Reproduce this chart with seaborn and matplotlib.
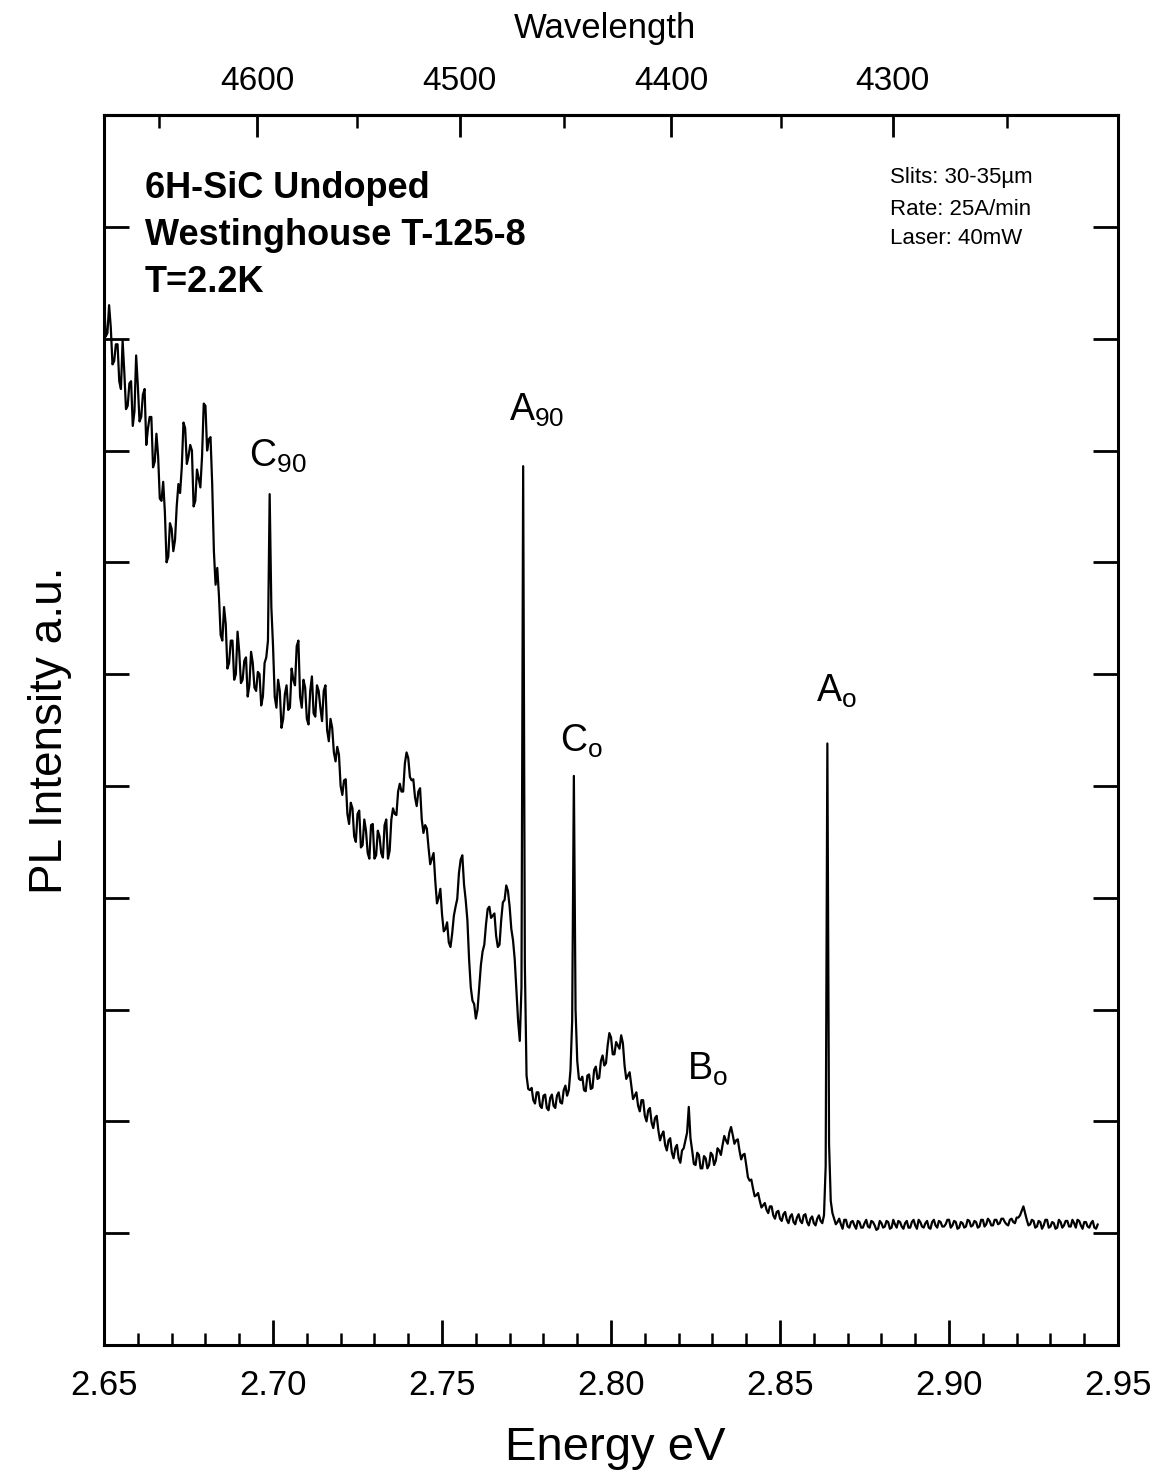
import numpy as np
import pandas as pd
import matplotlib
matplotlib.use("Agg")
import matplotlib.pyplot as plt
import seaborn as sns
from matplotlib.ticker import FixedLocator, MultipleLocator, FormatStrFormatter

# Photoluminescence spectrum: readings on the whole-meV grid from 2.650 eV
pl_intensity = [
    9.35, 9.05, 9.10, 8.80, 8.95, 8.55, 8.70, 8.40, 8.62, 8.35,
    8.58, 8.30, 8.55, 8.20, 8.30, 7.90, 7.95, 7.55, 7.45, 7.05,
    7.30, 7.20, 7.70, 7.85, 8.20, 7.95, 8.00, 7.55, 7.75, 7.95,
    8.40, 8.10, 7.70, 6.80, 6.70, 6.30, 6.45, 6.10, 6.30, 6.00,
    6.20, 5.95, 6.15, 5.90, 6.10, 5.85, 6.00, 5.80, 6.15, 7.61,
    6.25, 5.70, 5.85, 5.60, 5.90, 5.70, 5.95, 6.25, 5.80, 5.95,
    5.60, 5.85, 5.65, 5.90, 5.70, 5.85, 5.50, 5.60, 5.30, 5.35,
    5.00, 5.05, 4.75, 4.85, 4.55, 4.75, 4.45, 4.70, 4.40, 4.65,
    4.35, 4.60, 4.40, 4.65, 4.35, 4.70, 4.75, 4.95, 4.95, 5.20,
    5.25, 5.05, 4.90, 4.95, 4.70, 4.65, 4.45, 4.35, 4.15, 4.00,
    3.85, 3.72, 3.60, 3.68, 3.92, 4.22, 4.38, 3.98, 3.45, 3.08,
    2.92, 3.20, 3.52, 3.76, 3.92, 3.84, 3.66, 3.58, 3.96, 4.11,
    3.92, 3.62, 3.18, 2.72, 7.86, 2.41, 2.28, 2.19, 2.26, 2.14,
    2.23, 2.12, 2.21, 2.14, 2.23, 2.17, 2.28, 2.23, 2.46, 5.09,
    2.54, 2.37, 2.28, 2.41, 2.29, 2.46, 2.38, 2.54, 2.50, 2.68,
    2.75, 2.60, 2.68, 2.77, 2.50, 2.41, 2.32, 2.23, 2.14, 2.19,
    2.05, 2.10, 1.99, 2.03, 1.92, 1.88, 1.79, 1.83, 1.72, 1.76,
    1.67, 1.74, 1.83, 2.13, 1.74, 1.61, 1.70, 1.58, 1.67, 1.61,
    1.70, 1.65, 1.74, 1.79, 1.83, 1.90, 1.88, 1.83, 1.74, 1.70,
    1.61, 1.47, 1.40, 1.34, 1.29, 1.25, 1.21, 1.24, 1.16, 1.19,
    1.13, 1.17, 1.12, 1.15, 1.10, 1.14, 1.11, 1.16, 1.10, 1.13,
    1.09, 1.13, 1.11, 1.16, 5.38, 1.29, 1.13, 1.10, 1.08, 1.12,
    1.06, 1.10, 1.07, 1.11, 1.05, 1.09, 1.06, 1.11, 1.07, 1.04,
    1.09, 1.06, 1.10, 1.05, 1.08, 1.11, 1.06, 1.09, 1.05, 1.10,
    1.07, 1.12, 1.06, 1.09, 1.05, 1.10, 1.07, 1.11, 1.06, 1.08,
    1.12, 1.07, 1.10, 1.05, 1.09, 1.06, 1.11, 1.07, 1.10, 1.06,
    1.12, 1.08, 1.11, 1.07, 1.12, 1.09, 1.13, 1.08, 1.12, 1.10,
    1.14, 1.16, 1.24, 1.12, 1.08, 1.11, 1.06, 1.10, 1.07, 1.12,
    1.06, 1.09, 1.05, 1.10, 1.07, 1.11, 1.06, 1.09, 1.12, 1.07,
    1.10, 1.06, 1.09, 1.05, 1.08,
]

# Readings taken half-way between the whole-meV points (2.6505 eV onward)
pl_intensity_half = [
    9.02, 9.30, 8.77, 8.95, 8.62, 8.98, 8.37, 8.60, 8.22, 8.85,
    8.26, 8.50, 8.05, 8.30, 7.85, 8.15, 7.57, 7.72, 7.00, 7.35,
    7.10, 7.50, 7.62, 8.25, 7.88, 8.05, 7.50, 7.83, 7.67, 8.42,
    8.00, 8.12, 7.10, 6.95, 6.35, 6.60, 6.05, 6.30, 5.95, 6.38,
    5.92, 6.12, 5.80, 6.20, 5.88, 6.02, 5.72, 6.10, 6.30, 6.60,
    5.80, 5.95, 5.52, 5.82, 5.68, 6.05, 5.90, 6.30, 5.70, 5.88,
    5.55, 5.98, 5.62, 5.85, 5.58, 5.90, 5.40, 5.52, 5.22, 5.28,
    4.92, 5.06, 4.66, 4.80, 4.50, 4.78, 4.47, 4.60, 4.35, 4.66,
    4.38, 4.55, 4.36, 4.70, 4.42, 4.80, 4.74, 5.02, 4.95, 5.30,
    5.08, 5.06, 4.82, 4.98, 4.58, 4.62, 4.30, 4.40, 3.95, 4.08,
    3.70, 3.78, 3.56, 3.84, 3.99, 4.34, 4.12, 3.80, 3.20, 3.05,
    3.00, 3.40, 3.58, 3.90, 3.82, 3.86, 3.56, 3.80, 3.98, 4.06,
    3.72, 3.45, 2.90, 3.20, 3.40, 2.29, 2.30, 2.16, 2.26, 2.12,
    2.24, 2.10, 2.24, 2.12, 2.26, 2.16, 2.32, 2.28, 2.90, 3.00,
    2.38, 2.40, 2.27, 2.42, 2.30, 2.49, 2.39, 2.59, 2.52, 2.79,
    2.60, 2.71, 2.65, 2.70, 2.38, 2.44, 2.20, 2.26, 2.09, 2.19,
    2.00, 2.12, 1.94, 2.05, 1.83, 1.91, 1.74, 1.85, 1.67, 1.79,
    1.63, 1.76, 1.90, 1.85, 1.62, 1.72, 1.58, 1.69, 1.58, 1.72,
    1.61, 1.76, 1.70, 1.87, 1.80, 1.95, 1.80, 1.84, 1.66, 1.71,
    1.50, 1.48, 1.33, 1.36, 1.23, 1.27, 1.18, 1.24, 1.13, 1.20,
    1.11, 1.19, 1.09, 1.17, 1.08, 1.17, 1.09, 1.17, 1.07, 1.15,
    1.07, 1.16, 1.09, 1.60, 1.80, 1.18,
    1.08, 1.13, 1.04, 1.12, 1.05, 1.11, 1.04, 1.10, 1.05, 1.12,
    1.05, 1.10, 1.03, 1.11, 1.05, 1.11, 1.04, 1.12, 1.05, 1.10,
    1.04, 1.11, 1.05, 1.12, 1.04, 1.10, 1.05, 1.11, 1.04, 1.12,
    1.05, 1.10, 1.06, 1.12, 1.05, 1.11, 1.04, 1.10, 1.05, 1.12,
    1.06, 1.11, 1.05, 1.12, 1.06, 1.13, 1.07, 1.12, 1.08, 1.13,
    1.10, 1.07, 1.13, 1.09, 1.14, 1.20, 1.18, 1.07, 1.12, 1.05,
    1.11, 1.04, 1.12, 1.05, 1.10, 1.04, 1.12, 1.05, 1.11, 1.06,
    1.12, 1.05, 1.11, 1.04, 1.10, 1.05, 1.11, 1.04,
]

energy_ev = np.round(2.650 + 0.001 * np.arange(len(pl_intensity)), 4)
energy_ev_half = np.round(2.6505 + 0.001 * np.arange(len(pl_intensity_half)), 4)

# Axis ticks
energy_ticks = [2.65, 2.70, 2.75, 2.80, 2.85, 2.90, 2.95]
intensity_ticks = [1, 2, 3, 4, 5, 6, 7, 8, 9, 10]
wavelength_ticks = [4600, 4500, 4400, 4300]
wavelength_minor = [4650, 4550, 4450, 4350, 4250]

# Line identifications: label text and where it sits (energy, intensity)
peak_names = [r"$\mathregular{C_{90}}$", r"$\mathregular{A_{90}}$",
              r"$\mathregular{C_{o}}$", r"$\mathregular{A_{o}}$",
              r"$\mathregular{B_{o}}$"]
peak_label_e = [2.7015, 2.7780, 2.7914, 2.8666, 2.8284]
peak_label_i = [7.95, 8.36, 5.40, 5.85, 2.47]

sample_lines = ["6H-SiC Undoped", "Westinghouse T-125-8", "T=2.2K"]
setup_lines = ["Slits: 30-35\u00b5m", "Rate: 25A/min", "Laser: 40mW"]

HC = 12398.4  # eV * Angstrom


def ev_to_angstrom(e):
    e = np.asarray(e, dtype=float)
    with np.errstate(divide="ignore"):
        return HC / e


sns.set_style("ticks")
plt.rcParams["font.family"] = ["Liberation Sans", "DejaVu Sans"]
plt.rcParams["mathtext.fontset"] = "custom"
plt.rcParams["mathtext.rm"] = "Liberation Sans"
plt.rcParams["mathtext.it"] = "Liberation Sans:italic"
plt.rcParams["mathtext.bf"] = "Liberation Sans:bold"
for key in ["axes.edgecolor", "xtick.color", "ytick.color", "text.color",
            "axes.labelcolor"]:
    plt.rcParams[key] = "black"

df = pd.concat([
    pd.DataFrame({"energy": energy_ev, "intensity": pl_intensity}),
    pd.DataFrame({"energy": energy_ev_half, "intensity": pl_intensity_half}),
], ignore_index=True).sort_values("energy")

fig = plt.figure(figsize=(11.65, 14.81), dpi=100)
ax = fig.add_axes([0.0893, 0.0918, 0.8704, 0.8305])

sns.lineplot(data=df, x="energy", y="intensity", ax=ax, color="black",
             linewidth=1.6, estimator=None, sort=True)

ax.set_xlim(2.65, 2.95)
ax.set_ylim(0, 11)
ax.set_xlabel("")
ax.set_ylabel("")

for s in ax.spines.values():
    s.set_linewidth(2.2)
    s.set_color("black")

ax.xaxis.set_major_locator(FixedLocator(energy_ticks))
ax.xaxis.set_major_formatter(FormatStrFormatter("%.2f"))
ax.xaxis.set_minor_locator(MultipleLocator(0.01))
ax.tick_params(axis="x", which="major", direction="in", length=18, width=2,
               labelsize=25, pad=17, top=False, bottom=True)
ax.tick_params(axis="x", which="minor", direction="in", length=9, width=1.8,
               top=False, bottom=True)
ax.set_yticks(intensity_ticks)
ax.tick_params(axis="y", which="major", direction="in", length=18, width=2,
               left=True, right=True, labelleft=False, labelright=False)

sec = ax.secondary_xaxis("top", functions=(ev_to_angstrom, ev_to_angstrom))
sec.xaxis.set_major_locator(FixedLocator(wavelength_ticks))
sec.xaxis.set_minor_locator(FixedLocator(wavelength_minor))
sec.tick_params(which="major", direction="in", length=16, width=2,
                labelsize=24, pad=13)
sec.tick_params(which="minor", direction="in", length=9, width=1.8)
sec.spines["top"].set_linewidth(2.2)

for name, e, i in zip(peak_names, peak_label_e, peak_label_i):
    ax.text(e, i, name, fontsize=27, ha="center", va="center")

for k, line in enumerate(sample_lines):
    ax.text(0.0404, 0.9407 - 0.0383 * k, line, transform=ax.transAxes,
            fontsize=26, fontweight="bold", ha="left", va="center")

setup_y = [0.9496, 0.9236, 0.9000]
for line, yy in zip(setup_lines, setup_y):
    ax.text(0.7751, yy, line, transform=ax.transAxes,
            fontsize=16, ha="left", va="center")

fig.text(0.043, 0.507, "PL Intensity a.u.", rotation=90, fontsize=33,
         ha="center", va="center")
fig.text(0.528, 0.0223, "Energy eV", fontsize=34, ha="center", va="center")
fig.text(0.519, 0.9805, "Wavelength", fontsize=25, ha="center", va="center")

fig.savefig("out.png", dpi=100)
